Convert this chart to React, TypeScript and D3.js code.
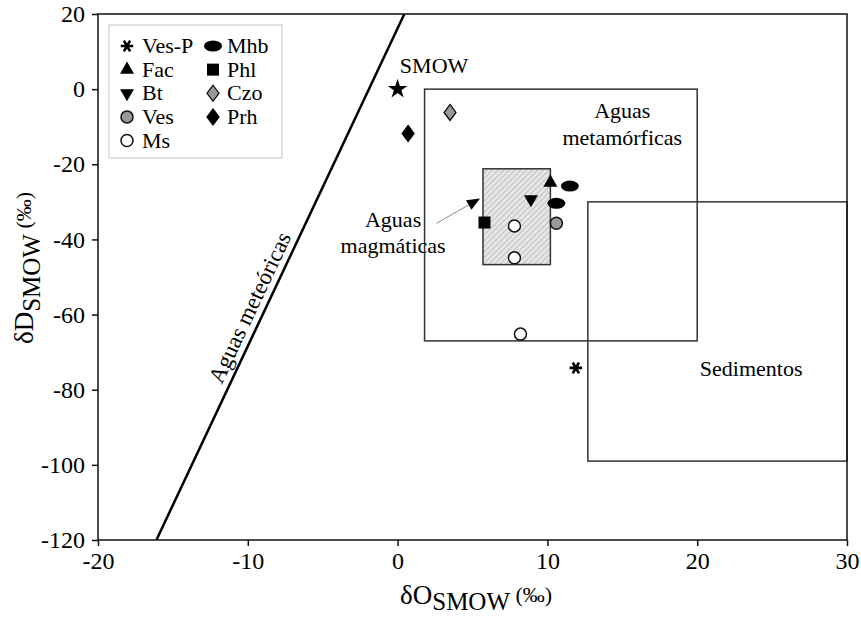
import React, { useEffect, useRef } from "react";
import * as d3 from "d3";

// axis ticks
const xTicks = [-20, -10, 0, 10, 20, 30];
const yTicks = [20, 0, -20, -40, -60, -80, -100, -120];

// samples: [δ18O, δD]
const vesP = [[11.9, -74.2]];
const fac = [[10.2, -24.9]];
const bt = [[8.9, -29.3]];
const ves = [[10.6, -35.7]];
const ms = [[7.8, -36.4], [7.8, -44.9], [8.2, -65.2]];
const mhb = [[11.5, -25.8], [10.6, -30.4]];
const phl = [[5.8, -35.5]];
const czo = [[3.5, -6.2]];
const prh = [[0.7, -11.8]];
const smow = [[0, 0]];

// fields [x0, x1, y0, y1]
const metamorphicBox = [1.8, 20, -67, 0];
const sedimentBox = [12.7, 30, -99, -30];
const magmaticBox = [5.7, 10.2, -46.7, -21.2];

// meteoric water line end points
const meteoricX = [-16.1, 0.45];
const meteoricY = [-120, 20];

// arrow to magmatic field
const arrowX = [2.6, 5.5];
const arrowY = [-35.7, -29.1];

const legendCol1 = ["Ves-P", "Fac", "Bt", "Ves", "Ms"];
const legendCol2 = ["Mhb", "Phl", "Czo", "Prh"];

const symbolOf = {
  "Ves-P": "asterisk",
  Fac: "triUp",
  Bt: "triDown",
  Ves: "circleGrey",
  Ms: "circleOpen",
  Mhb: "ellipse",
  Phl: "square",
  Czo: "diamondGrey",
  Prh: "diamond",
};

const seriesData = {
  "Ves-P": vesP,
  Fac: fac,
  Bt: bt,
  Ves: ves,
  Ms: ms,
  Mhb: mhb,
  Phl: phl,
  Czo: czo,
  Prh: prh,
};

const FONT = "'Liberation Serif', 'Times New Roman', serif";

function drawSymbol(g, kind, cx, cy) {
  const t = `translate(${cx},${cy})`;
  if (kind === "asterisk") {
    g.append("path")
      .attr("d", d3.symbol(d3.symbolAsterisk, 110)())
      .attr("transform", t + " rotate(90)")
      .attr("fill", "none")
      .attr("stroke", "#000")
      .attr("stroke-width", 2.6);
  } else if (kind === "triUp" || kind === "triDown") {
    g.append("path")
      .attr("d", d3.symbol(d3.symbolTriangle, 85)())
      .attr("transform", t + (kind === "triDown" ? " rotate(180)" : ""))
      .attr("fill", "#000");
  } else if (kind === "circleGrey" || kind === "circleOpen") {
    g.append("circle")
      .attr("cx", cx)
      .attr("cy", cy)
      .attr("r", 6)
      .attr("fill", kind === "circleGrey" ? "#999" : "#fff")
      .attr("stroke", "#111")
      .attr("stroke-width", 1.5);
  } else if (kind === "ellipse") {
    g.append("ellipse")
      .attr("cx", cx)
      .attr("cy", cy)
      .attr("rx", 9)
      .attr("ry", 5.5)
      .attr("fill", "#000");
  } else if (kind === "square") {
    g.append("rect")
      .attr("x", cx - 6)
      .attr("y", cy - 6)
      .attr("width", 12)
      .attr("height", 12)
      .attr("fill", "#000");
  } else if (kind === "diamondGrey" || kind === "diamond") {
    g.append("path")
      .attr("d", "M0,-8L6,0L0,8L-6,0Z")
      .attr("transform", t)
      .attr("fill", kind === "diamondGrey" ? "#999" : "#000")
      .attr("stroke", "#000")
      .attr("stroke-width", 1.2);
  } else if (kind === "star") {
    g.append("path")
      .attr("d", d3.symbol(d3.symbolStar, 120)())
      .attr("transform", t)
      .attr("fill", "#000");
  }
}

export default function App() {
  const svgRef = useRef(null);

  useEffect(() => {
    const width = 861;
    const height = 618;
    const margin = { left: 98, right: 14, top: 14, bottom: 78 };

    d3.select(svgRef.current).selectAll("*").remove();
    const svg = d3.select(svgRef.current).attr("width", width).attr("height", height);

    const x = d3.scaleLinear().domain([-20, 30]).range([margin.left, width - margin.right]);
    const y = d3.scaleLinear().domain([-120, 20]).range([height - margin.bottom, margin.top]);

    const defs = svg.append("defs");
    const pat = defs.append("pattern")
      .attr("id", "hatch")
      .attr("patternUnits", "userSpaceOnUse")
      .attr("width", 4)
      .attr("height", 4)
      .attr("patternTransform", "rotate(45)");
    pat.append("rect").attr("width", 4).attr("height", 4).attr("fill", "#e6e6e6");
    pat.append("line").attr("x1", 0).attr("y1", 0).attr("x2", 0).attr("y2", 4)
      .attr("stroke", "#9a9a9a").attr("stroke-width", 1);

    // fields
    const box = (b, fill) =>
      svg.append("rect")
        .attr("x", x(b[0]))
        .attr("y", y(b[3]))
        .attr("width", x(b[1]) - x(b[0]))
        .attr("height", y(b[2]) - y(b[3]))
        .attr("fill", fill)
        .attr("stroke", "#333")
        .attr("stroke-width", 1.5);
    box(metamorphicBox, "none");
    box(sedimentBox, "none");
    box(magmaticBox, "url(#hatch)");

    // meteoric water line
    svg.append("line")
      .attr("x1", x(meteoricX[0]))
      .attr("y1", y(meteoricY[0]))
      .attr("x2", x(meteoricX[1]))
      .attr("y2", y(meteoricY[1]))
      .attr("stroke", "#000")
      .attr("stroke-width", 2.5);

    // label along the line
    const px0 = x(meteoricX[0]), py0 = y(meteoricY[0]);
    const px1 = x(meteoricX[1]), py1 = y(meteoricY[1]);
    const len = Math.hypot(px1 - px0, py1 - py0);
    const ux = (px1 - px0) / len, uy = (py1 - py0) / len;
    const ang = (Math.atan2(uy, ux) * 180) / Math.PI;
    const tPos = 0.43;
    const bx = px0 + (px1 - px0) * tPos + 7 * uy;
    const by = py0 + (py1 - py0) * tPos - 7 * ux;
    svg.append("text")
      .attr("transform", `translate(${bx},${by}) rotate(${ang})`)
      .attr("text-anchor", "middle")
      .attr("font-family", FONT)
      .attr("font-size", 23)
      .text("Aguas meteóricas");

    // arrow with filled head
    const ax0 = x(arrowX[0]), ay0 = y(arrowY[0]);
    const ax1 = x(arrowX[1]), ay1 = y(arrowY[1]);
    const al = Math.hypot(ax1 - ax0, ay1 - ay0);
    const dx = (ax1 - ax0) / al, dy = (ay1 - ay0) / al;
    const headLen = 13, headW = 5.5;
    const hbx = ax1 - dx * headLen, hby = ay1 - dy * headLen;
    svg.append("line")
      .attr("x1", ax0)
      .attr("y1", ay0)
      .attr("x2", hbx)
      .attr("y2", hby)
      .attr("stroke", "#888")
      .attr("stroke-width", 1);
    svg.append("path")
      .attr("d", `M${ax1},${ay1}L${hbx - dy * headW},${hby + dx * headW}L${hbx + dy * headW},${hby - dx * headW}Z`)
      .attr("fill", "#000");

    // annotations
    const label = (tx, ty, lines, anchor) => {
      const t = svg.append("text")
        .attr("x", x(tx))
        .attr("y", y(ty))
        .attr("text-anchor", anchor)
        .attr("font-family", FONT)
        .attr("font-size", 22);
      lines.forEach((l, i) => {
        t.append("tspan").attr("x", x(tx)).attr("dy", i === 0 ? 0 : 26.5).text(l);
      });
    };
    label(0.15, 4.3, ["SMOW"], "start");
    label(15.0, -7.7, ["Aguas", "metamórficas"], "middle");
    label(-0.3, -36.6, ["Aguas", "magmáticas"], "middle");
    label(23.6, -76.4, ["Sedimentos"], "middle");

    // data points
    const pts = svg.append("g");
    Object.keys(seriesData).forEach((name) => {
      seriesData[name].forEach((d) => drawSymbol(pts, symbolOf[name], x(d[0]), y(d[1])));
    });
    smow.forEach((d) => drawSymbol(pts, "star", x(d[0]), y(d[1])));

    // frame
    svg.append("rect")
      .attr("x", margin.left)
      .attr("y", margin.top)
      .attr("width", width - margin.left - margin.right)
      .attr("height", height - margin.top - margin.bottom)
      .attr("fill", "none")
      .attr("stroke", "#111")
      .attr("stroke-width", 1.5);

    // axes (hyphen minus like the original)
    const fmt = (d) => String(d);
    const xAxis = svg.append("g")
      .attr("transform", `translate(0,${height - margin.bottom})`)
      .call(d3.axisBottom(x).tickValues(xTicks).tickSize(6).tickPadding(6).tickFormat(fmt));
    xAxis.select(".domain").remove();
    xAxis.selectAll("line").attr("stroke", "#111").attr("stroke-width", 1.5);
    xAxis.selectAll("text")
      .attr("font-family", FONT)
      .attr("font-size", 24)
      .attr("fill", "#000");

    const yAxis = svg.append("g")
      .attr("transform", `translate(${margin.left},0)`)
      .call(d3.axisLeft(y).tickValues(yTicks).tickSize(6).tickPadding(7).tickFormat(fmt));
    yAxis.select(".domain").remove();
    yAxis.selectAll("line").attr("stroke", "#111").attr("stroke-width", 1.5);
    yAxis.selectAll("text")
      .attr("font-family", FONT)
      .attr("font-size", 24)
      .attr("fill", "#000");

    // axis titles
    const xt = svg.append("text")
      .attr("x", 400)
      .attr("y", 604)
      .attr("font-family", FONT)
      .attr("font-size", 27);
    xt.append("tspan").text("δO");
    xt.append("tspan").attr("font-size", 25).attr("dy", 6).text("SMOW");
    xt.append("tspan").attr("font-size", 22).attr("dy", -8).text(" (‰)");

    const yt = svg.append("text")
      .attr("transform", `translate(33,268) rotate(-90)`)
      .attr("text-anchor", "middle")
      .attr("font-family", FONT)
      .attr("font-size", 27);
    yt.append("tspan").text("δD");
    yt.append("tspan").attr("font-size", 25).attr("dy", 7).text("SMOW");
    yt.append("tspan").attr("font-size", 22).attr("dy", -9).text(" (‰)");

    // legend
    const lg = svg.append("g");
    lg.append("rect")
      .attr("x", 109)
      .attr("y", 25)
      .attr("width", 173)
      .attr("height", 133)
      .attr("fill", "#fff")
      .attr("stroke", "#cfcfcf")
      .attr("stroke-width", 1.2);
    const rowY = d3.scaleLinear().domain([0, 4]).range([53, 147.5]);
    const drawCol = (names, sx, tx) => {
      names.forEach((n, i) => {
        drawSymbol(lg, symbolOf[n], sx, rowY(i) - 7);
        lg.append("text")
          .attr("x", tx)
          .attr("y", rowY(i))
          .attr("font-family", FONT)
          .attr("font-size", 22)
          .text(n);
      });
    };
    drawCol(legendCol1, 127, 142);
    drawCol(legendCol2, 213, 227);
  }, []);

  return (
    <svg
      ref={svgRef}
      style={{ position: "absolute", left: 0, top: 0, background: "#fff" }}
    ></svg>
  );
}
